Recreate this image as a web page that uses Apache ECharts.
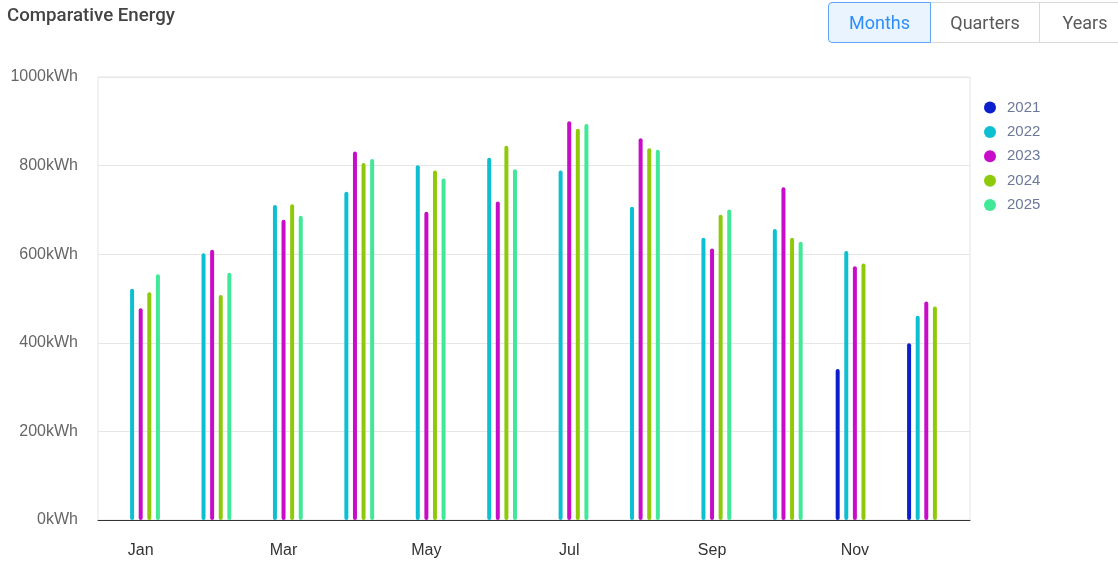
<!DOCTYPE html>
<html>
<head>
<meta charset="utf-8">
<script src="https://cdn.jsdelivr.net/npm/echarts@6/dist/echarts.min.js"></script>
<style>
  html, body { margin: 0; padding: 0; background: #fff; font-family: Roboto, "Noto Sans", sans-serif; }
  #wrap { position: relative; width: 1118px; height: 565px; overflow: hidden; }
  #chart { position: absolute; left: 0; top: 0; width: 1118px; height: 565px; }
  .title { position: absolute; left: 7px; top: 4px; font-size: 18.7px; font-weight: 500; color: #444; }
  .tabs { position: absolute; left: 828px; top: 2px; display: flex; }
  .tabs div { height: 39px; line-height: 39px; font-size: 18px; color: #595959; border: 1px solid #d9d9d9; border-left: none; text-align: center; box-sizing: content-box; }
  .tabs .on { color: #2f8ef4; background: #e9f4ff; border: 1px solid #5ea6f7; border-radius: 4px 0 0 4px; width: 101px; }
  .tabs .q { width: 108px; }
  .tabs .y { width: 90px; }
</style>
</head>
<body>
<div id="wrap">
  <div id="chart"></div>
  <div class="title">Comparative Energy</div>
  <div class="tabs">
    <div class="on">Months</div>
    <div class="q">Quarters</div>
    <div class="y">Years</div>
  </div>
</div>
<script>
const months = ['Jan', 'Feb', 'Mar', 'Apr', 'May', 'Jun', 'Jul', 'Aug', 'Sep', 'Oct', 'Nov', 'Dec'];
const years = ['2021', '2022', '2023', '2024', '2025'];
const colors = ['#0b1fcc', '#0cbfd1', '#c70cca', '#8fca0a', '#40e898'];

const y2021 = [null, null, null, null, null, null, null, null, null, null, 341, 399];
const y2022 = [522, 602, 711, 741, 801, 818, 789, 707, 637, 657, 607, 461];
const y2023 = [478, 610, 678, 832, 696, 719, 900, 862, 613, 751, 573, 493];
const y2024 = [514, 508, 713, 806, 789, 845, 883, 839, 689, 637, 579, 482];
const y2025 = [555, 558, 687, 815, 771, 792, 894, 836, 701, 628, null, null];

const seriesData = [y2021, y2022, y2023, y2024, y2025];

const chart = echarts.init(document.getElementById('chart'));

const series = years.map((name, i) => ({
  name: name,
  type: 'bar',
  xAxisIndex: 1,
  yAxisIndex: 1,
  barWidth: 4,
  barGap: '115%',
  itemStyle: { color: colors[i], borderRadius: 2 },
  data: seriesData[i]
}));

chart.setOption({
  animation: false,
  color: colors,
  legend: {
    orient: 'vertical',
    left: 979,
    top: 95,
    icon: 'circle',
    itemWidth: 12,
    itemHeight: 12,
    itemGap: 9.4,
    textStyle: { color: '#6b7898', fontSize: 15, padding: [0, 0, 0, 6] },
    data: years
  },
  grid: [
    { left: 98, right: 148, top: 77, bottom: 45, show: true, borderColor: '#e6e6e6', borderWidth: 1 },
    { left: 105, right: 156, top: 77, bottom: 45 }
  ],
  xAxis: [
    {
      gridIndex: 0,
      type: 'category',
      data: months,
      axisLine: { lineStyle: { color: '#333', width: 1 } },
      axisTick: { show: false },
      axisLabel: { show: false }
    },
    {
      gridIndex: 1,
      type: 'category',
      data: months,
      axisLine: { show: false },
      axisTick: { show: false },
      axisLabel: { interval: 1, color: '#333', fontSize: 16, margin: 23 }
    }
  ],
  yAxis: [
    {
      gridIndex: 0,
      type: 'value',
      min: 0,
      max: 1000,
      interval: 200,
      axisLine: { show: false },
      axisTick: { show: false },
      axisLabel: { color: '#666', fontSize: 16, margin: 20, formatter: v => v + 'kWh' },
      splitLine: { lineStyle: { color: '#e6e6e6' } }
    },
    {
      gridIndex: 1,
      type: 'value',
      min: 0,
      max: 1000,
      interval: 200,
      show: false,
      splitLine: { show: false }
    }
  ],
  series: series
});
</script>
</body>
</html>
